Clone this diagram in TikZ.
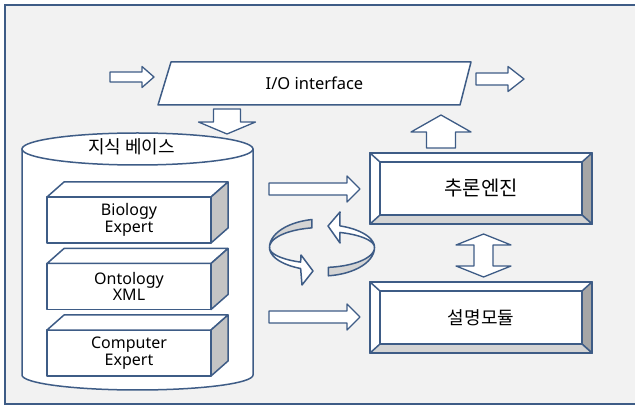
\documentclass[tikz,border=0pt]{standalone}
\usepackage{fontspec}
\setmainfont{Noto Sans}
\newfontfamily\kr{Noto Sans CJK KR}
\usetikzlibrary{calc}

\definecolor{lineblue}{RGB}{62,92,134}
\definecolor{paper}{RGB}{242,242,242}
\definecolor{shadedark}{RGB}{166,166,166}
\definecolor{shadelight}{RGB}{212,212,212}
\definecolor{shadeside}{RGB}{196,196,196}

\tikzset{
	outline/.style={draw=lineblue, line width=1.5pt, line join=round},
	blockarrow/.style={outline, fill=white, line width=1.3pt},
	face/.style={outline, fill=white, minimum width=164pt, minimum height=46pt, inner sep=0pt, outer sep=0pt, align=center, font=\fontsize{16}{16.5}\selectfont},
	bevelbox/.style={outline, fill=white, minimum width=222pt, minimum height=71pt, inner sep=0pt, outer sep=0pt, font=\kr\fontsize{18}{20}\selectfont},
}

% flat block arrow from #1 to #2 (shaft half width #3, head half width #4, head length #5)
\newcommand{\blockarrow}[5]{%
	\path ($(#2)!#5!(#1)$) coordinate (hb);
	\draw[blockarrow] ($(#1)!#3!90:(#2)$) -- ($(hb)!#3!-90:(#1)$) -- ($(hb)!#4!-90:(#1)$) -- (#2)
		-- ($(hb)!#4!90:(#1)$) -- ($(hb)!#3!90:(#1)$) -- ($(#1)!#3!-90:(#2)$) -- cycle;
}
% same with a head at both ends
\newcommand{\dblarrow}[5]{%
	\path ($(#1)!#5!(#2)$) coordinate (ha) ($(#2)!#5!(#1)$) coordinate (hb);
	\draw[blockarrow] (#1) -- ($(ha)!#4!90:(#2)$) -- ($(ha)!#3!90:(#2)$) -- ($(hb)!#3!-90:(#1)$) -- ($(hb)!#4!-90:(#1)$) -- (#2)
		-- ($(hb)!#4!90:(#1)$) -- ($(hb)!#3!90:(#1)$) -- ($(ha)!#3!-90:(#2)$) -- ($(ha)!#4!-90:(#2)$) -- cycle;
}

\begin{document}
\begin{tikzpicture}[x=1pt, y=-1pt, font=\fontsize{16.5}{18}\selectfont]

	\useasboundingbox (0,0) rectangle (635,406);

	% frame
	\filldraw[fill=paper, draw=lineblue, line width=2pt] (5,5) rectangle (660,404);

	% I/O interface
	\filldraw[outline, fill=white] (171,62) -- (471,62) -- (460,105) -- (158,105) -- cycle;
	\node (io) at (314.5,83.5) {I/O interface};

	\coordinate (inA) at (110,77);   \coordinate (inB) at (154,77);
	\coordinate (outA) at (476,79);  \coordinate (outB) at (524,79);
	\coordinate (downA) at (227,109); \coordinate (downB) at (227,134);
	\coordinate (upA) at (441,148);  \coordinate (upB) at (441,115);

	\blockarrow{inA}{inB}{5pt}{10.5pt}{12pt}
	\blockarrow{outA}{outB}{6pt}{12.5pt}{16pt}
	\blockarrow{downA}{downB}{13.5pt}{28.5pt}{12pt}
	\blockarrow{upA}{upB}{14.5pt}{30pt}{17pt}

	% knowledge base cylinder
	\def\cylx{137.5}
	\def\cylrx{115.5}
	\filldraw[outline, fill=white] (22,149) -- (22,375)
		-- plot[domain=180:0, samples=40] ({\cylx+\cylrx*cos(\x)}, {375+15*sin(\x)}) -- (253,149) -- cycle;
	\filldraw[outline, fill=white] (\cylx,149) ellipse [x radius=\cylrx, y radius=16];
	\node[font=\kr\fontsize{18}{20}\selectfont] (kb) at (131.5,147) {지식 베이스};

	% boxes inside the base
	\node[face] (bio) at (129,220) {Biology\\Expert};
	\node[face] (onto) at (129,286.5) {Ontology\\XML};
	\node[face] (comp) at (129,353) {Computer\\Expert};

	\foreach \n in {bio,onto,comp} {
		\filldraw[outline, fill=white] (\n.north west) -- ($(\n.north west)+(17,-15)$) -- ($(\n.north east)+(17,-15)$) -- (\n.north east) -- cycle;
		\filldraw[outline, fill=shadeside] (\n.north east) -- ($(\n.north east)+(17,-15)$) -- ($(\n.south east)+(17,-15)$) -- (\n.south east) -- cycle;
	}

	% engine and explanation module
	\node[bevelbox, font=\kr\fontsize{20}{22}\selectfont] (eng) at (481,188.5) {추론엔진};
	\node[bevelbox] (expl) at (481,317.5) {설명모듈};

	\foreach \n in {eng,expl} {
		\filldraw[outline, fill=shadedark] (\n.north east) -- (\n.south east) -- ($(\n.south east)+(-10,-9)$) -- ($(\n.north east)+(-10,9)$) -- cycle;
		\filldraw[outline, fill=shadelight] (\n.south west) -- (\n.south east) -- ($(\n.south east)+(-10,-9)$) -- ($(\n.south west)+(10,-9)$) -- cycle;
		\draw[outline] ($(\n.north west)+(10,9)$) rectangle ($(\n.south east)+(-10,-9)$);
		\draw[outline] (\n.north west) -- ($(\n.north west)+(10,9)$);
		\draw[outline] (\n.north west) rectangle (\n.south east);
	}

	\coordinate (kbA) at (269,189);  \coordinate (kbB) at (360,189);
	\coordinate (kbC) at (269,317);  \coordinate (kbD) at (360,317);
	\coordinate (dblA) at (483.5,234); \coordinate (dblB) at (483.5,277);

	\blockarrow{kbA}{kbB}{6pt}{13pt}{13pt}
	\blockarrow{kbC}{kbD}{6pt}{13pt}{13pt}
	\dblarrow{dblA}{dblB}{9.5pt}{27.5pt}{11pt}

	% cycle arrows
	\filldraw[outline, fill=shadelight, samples=30]
		plot[domain=259:180] ({322+52.5*cos(\x)}, {247.5+28.5*sin(\x)})
		-- plot[domain=180:259] ({322+52.5*cos(\x)}, {247.5+20*sin(\x)}) -- cycle;
	\filldraw[outline, fill=white, samples=30]
		plot[domain=180:114] ({322+52.5*cos(\x)}, {247.5+16*sin(\x)})
		-- (301,255) -- (313,271) -- (302,285)
		-- plot[domain=114:180] ({322+52.5*cos(\x)}, {247.5+23*sin(\x)}) -- cycle;

	\filldraw[outline, fill=shadelight, samples=30]
		plot[domain=83:0] ({322+52.5*cos(\x)}, {247.5+28.5*sin(\x)})
		-- plot[domain=0:83] ({322+52.5*cos(\x)}, {247.5+20*sin(\x)}) -- cycle;
	\filldraw[outline, fill=white, samples=30]
		plot[domain=360:290] ({322+52.5*cos(\x)}, {247.5+16*sin(\x)})
		-- (340,243) -- (328,226) -- (340,212)
		-- plot[domain=290:360] ({322+52.5*cos(\x)}, {247.5+23*sin(\x)}) -- cycle;

\end{tikzpicture}
\end{document}
